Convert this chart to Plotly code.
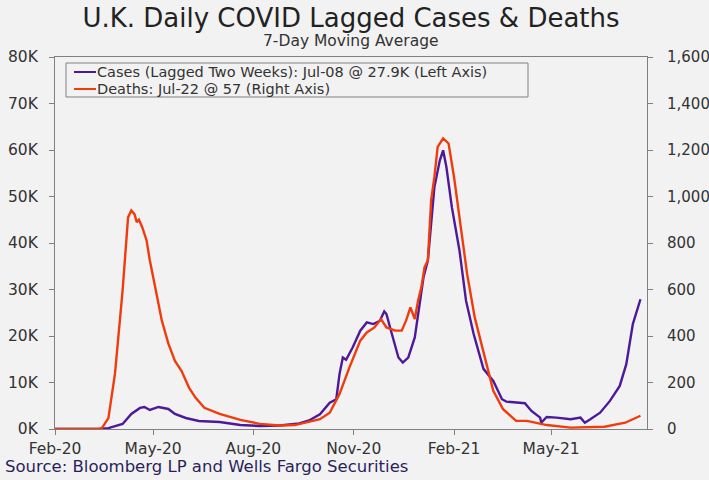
import plotly.graph_objects as go

# 7-day moving averages; cases shifted forward two weeks onto the death dates
case_dates = [
    "2020-02-01", "2020-03-12", "2020-03-21", "2020-03-27", "2020-04-03", "2020-04-11",
    "2020-04-19", "2020-04-23", "2020-04-28", "2020-05-06", "2020-05-15", "2020-05-21",
    "2020-05-31", "2020-06-12", "2020-07-01", "2020-07-20", "2020-08-07", "2020-08-25",
    "2020-09-03", "2020-09-12", "2020-09-21", "2020-10-01", "2020-10-10", "2020-10-16",
    "2020-10-19", "2020-10-22", "2020-10-25", "2020-10-31", "2020-11-07", "2020-11-13",
    "2020-11-19", "2020-11-25", "2020-11-29", "2020-12-01", "2020-12-06", "2020-12-12",
    "2020-12-16", "2020-12-21", "2020-12-27", "2021-01-01", "2021-01-04", "2021-01-08",
    "2021-01-11", "2021-01-14", "2021-01-19", "2021-01-22", "2021-01-25", "2021-01-30",
    "2021-02-06", "2021-02-12", "2021-02-19", "2021-02-28", "2021-03-09", "2021-03-17",
    "2021-03-21", "2021-04-07", "2021-04-13", "2021-04-21", "2021-04-22", "2021-04-27",
    "2021-05-06", "2021-05-19", "2021-05-28", "2021-06-01", "2021-06-06", "2021-06-15",
    "2021-06-24", "2021-07-03", "2021-07-09", "2021-07-15", "2021-07-22",
]
cases = [
    0, 0, 200, 540, 1080, 3230,
    4530, 4740, 4100, 4740, 4310, 3230,
    2370, 1730, 1510, 860, 650, 760,
    970, 1190, 1830, 3170, 5670, 6400,
    11860, 15370, 14900, 17530, 21130, 22920,
    22570, 23290, 25290, 24730, 20420, 15370,
    14290, 15370, 19680, 27600, 32620, 36220,
    43400, 52020, 57780, 59940, 56340, 47710,
    38380, 27600, 20420, 12940, 10350, 6400,
    5890, 5540, 3880, 2440, 1360, 2590,
    2440, 2090, 2440, 1360, 2090, 3510,
    6040, 9270, 13950, 22570, 27900,
]

death_dates = [
    "2020-02-01", "2020-03-12", "2020-03-15", "2020-03-21", "2020-03-27", "2020-04-03",
    "2020-04-08", "2020-04-11", "2020-04-14", "2020-04-16", "2020-04-18", "2020-04-21",
    "2020-04-25", "2020-04-28", "2020-05-03", "2020-05-09", "2020-05-15", "2020-05-21",
    "2020-05-27", "2020-06-03", "2020-06-09", "2020-06-17", "2020-07-01", "2020-07-20",
    "2020-08-07", "2020-08-25", "2020-09-08", "2020-09-17", "2020-10-01", "2020-10-10",
    "2020-10-19", "2020-10-28", "2020-11-07", "2020-11-13", "2020-11-20", "2020-11-26",
    "2020-12-01", "2020-12-09", "2020-12-15", "2020-12-19", "2020-12-23", "2020-12-27",
    "2020-12-30", "2021-01-02", "2021-01-05", "2021-01-08", "2021-01-11", "2021-01-14",
    "2021-01-17", "2021-01-22", "2021-01-27", "2021-02-01", "2021-02-07", "2021-02-13",
    "2021-02-20", "2021-02-28", "2021-03-04", "2021-03-09", "2021-03-18", "2021-03-30",
    "2021-04-09", "2021-04-27", "2021-05-19", "2021-06-19", "2021-07-08", "2021-07-22",
]
deaths = [
    0, 0, 4, 47, 237, 595,
    910, 940, 923, 890, 900, 868,
    811, 725, 608, 466, 367, 293,
    250, 177, 134, 91, 65, 39,
    22, 15, 17, 26, 42, 70,
    151, 264, 380, 415, 437, 473,
    437, 423, 423, 466, 523, 473,
    552, 609, 696, 725, 983, 1084,
    1213, 1250, 1228, 1084, 868, 667,
    480, 330, 250, 164, 85, 35,
    35, 17, 6, 10, 27, 57,
]

left_ticks = [0, 10000, 20000, 30000, 40000, 50000, 60000, 70000, 80000]
left_labels = ["0K", "10K", "20K", "30K", "40K", "50K", "60K", "70K", "80K"]

case_name = "Cases (Lagged Two Weeks): Jul-08 @ 27.9K (Left Axis)"
death_name = "Deaths: Jul-22 @ 57 (Right Axis)"
case_color = "#4b1a9c"
death_color = "#f03c0c"

BG = "#f2f2f2"
AXIS = "#808080"
TEXT = "#333333"
FONT = "DejaVu Sans"

W, H = 709, 480
L, R, T, B = 55, 647, 57, 429  # plot area edges in pixels


def px(x):
    return (x - L) / (R - L)


def py(y):
    return (B - y) / (B - T)


fig = go.Figure()
fig.add_trace(go.Scatter(
    x=case_dates, y=cases, name=case_name, mode="lines",
    line=dict(color=case_color, width=2.4), yaxis="y",
))
fig.add_trace(go.Scatter(
    x=death_dates, y=deaths, name=death_name, mode="lines",
    line=dict(color=death_color, width=2.4), yaxis="y2",
))

tick_font = dict(family=FONT, size=15.5, color=TEXT)

fig.update_layout(
    width=W, height=H,
    margin=dict(l=L, r=W - R, t=T, b=H - B, pad=0),
    paper_bgcolor=BG, plot_bgcolor=BG,
    font=dict(family=FONT, size=15, color=TEXT),
    title=dict(
        text="U.K. Daily COVID Lagged Cases & Deaths",
        x=0.5, xanchor="center", xref="paper",
        y=1 - 18 / H, yanchor="middle", yref="container",
        font=dict(family=FONT, size=26, color="#222222"),
    ),
    showlegend=False,
    xaxis=dict(
        type="date", automargin=False,
        range=["2020-02-01", "2021-07-28"],
        tick0="2020-02-01", dtick="M3", tickformat="%b-%y",
        ticks="outside", ticklen=5, tickcolor=AXIS,
        showline=True, linecolor=AXIS, linewidth=1, mirror=True,
        showgrid=False, zeroline=False, tickfont=tick_font,
    ),
    yaxis=dict(
        automargin=False,
        range=[0, 80000], tickvals=left_ticks, ticktext=left_labels,
        ticks="outside", ticklen=5, tickcolor=AXIS,
        showline=True, linecolor=AXIS, linewidth=1,
        showgrid=False, zeroline=False, ticklabelstandoff=8,
        tickfont=tick_font,
    ),
    yaxis2=dict(
        automargin=False,
        range=[0, 1600], dtick=200, tickformat=",",
        overlaying="y", side="right",
        ticks="outside", ticklen=5, tickcolor=AXIS,
        showline=True, linecolor=AXIS, linewidth=1,
        showgrid=False, zeroline=False, ticklabelstandoff=11,
        tickfont=dict(family=FONT, size=15, color=TEXT),
    ),
    # inner halves of the crossing tick marks
    xaxis2=dict(
        type="date", matches="x", overlaying="x", automargin=False,
        tick0="2020-02-01", dtick="M3",
        ticks="inside", ticklen=5, tickcolor=AXIS,
        showticklabels=False, showgrid=False, zeroline=False, showline=False,
    ),
    yaxis3=dict(
        matches="y", overlaying="y", tickvals=left_ticks, automargin=False,
        ticks="inside", ticklen=5, tickcolor=AXIS,
        showticklabels=False, showgrid=False, zeroline=False, showline=False,
    ),
    yaxis4=dict(
        range=[0, 1600], dtick=200, overlaying="y", side="right", automargin=False,
        ticks="inside", ticklen=5, tickcolor=AXIS,
        showticklabels=False, showgrid=False, zeroline=False, showline=False,
    ),
)

# subtitle and source line
fig.add_annotation(
    text="7-Day Moving Average", xref="paper", yref="paper",
    x=0.5, y=py(41), xanchor="center", yanchor="middle",
    showarrow=False, font=dict(family=FONT, size=15.5, color=TEXT),
)
fig.add_annotation(
    text="Source: Bloomberg LP and Wells Fargo Securities",
    xref="paper", yref="paper",
    x=px(3), y=py(467), xanchor="left", yanchor="middle",
    showarrow=False, font=dict(family=FONT, size=16.5, color="#2a1f5c"),
)

# compact boxed legend
fig.add_shape(
    type="rect", xref="paper", yref="paper",
    x0=px(66), x1=px(528), y0=py(97), y1=py(63),
    line=dict(color=AXIS, width=1), fillcolor=BG, layer="below",
)
for name, color, y in [(case_name, case_color, 72), (death_name, death_color, 89)]:
    fig.add_shape(
        type="line", xref="paper", yref="paper",
        x0=px(74), x1=px(96), y0=py(y), y1=py(y),
        line=dict(color=color, width=2),
    )
    fig.add_annotation(
        text=name, xref="paper", yref="paper",
        x=px(96), y=py(y), xanchor="left", yanchor="middle",
        showarrow=False, borderpad=0,
        font=dict(family=FONT, size=14.5, color=TEXT),
    )

fig.write_html("out.html")
